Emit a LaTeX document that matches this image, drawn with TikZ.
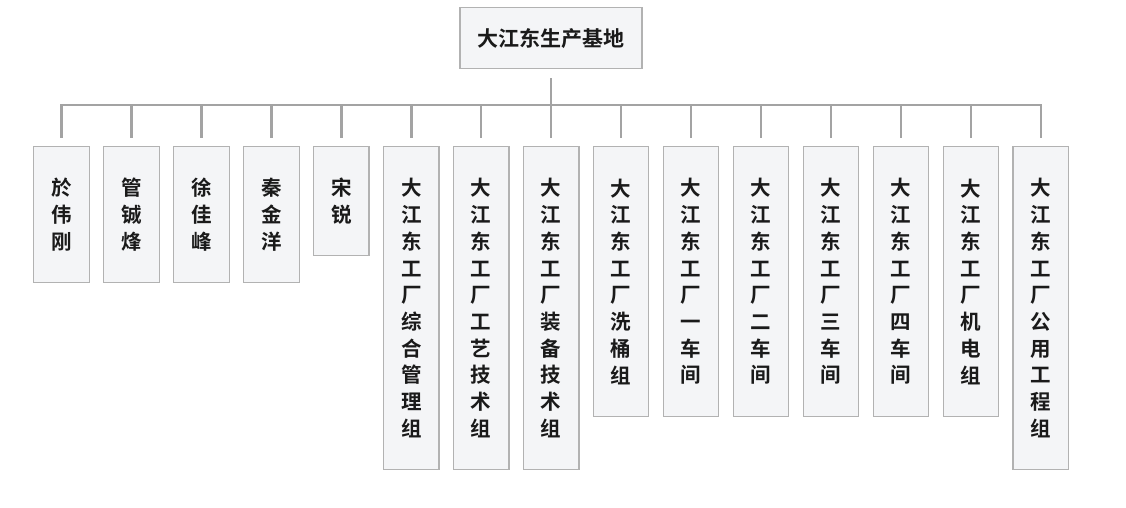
\documentclass[tikz,border=0pt]{standalone}
\usepackage{fontspec}
\setmainfont{Noto Sans CJK SC}[BoldFont={Noto Sans CJK SC Bold}]
\definecolor{linegray}{HTML}{A3A3A3}
\definecolor{boxline}{HTML}{B2B2B2}
\definecolor{boxfill}{HTML}{F4F5F7}
\definecolor{txt}{HTML}{1A1A1A}
\tikzset{
  rootbox/.style={draw=boxline, fill=boxfill, line width=1.2pt, minimum width=182pt, minimum height=61pt, inner sep=0pt, anchor=north, text=txt, font=\fontsize{21}{26}\selectfont\bfseries},
  kid/.style={draw=boxline, fill=boxfill, line width=1.2pt, minimum width=55.5pt, inner sep=0pt, anchor=north, align=center, text=txt, font=\fontsize{20.5}{26.7}\selectfont\bfseries},
  conn/.style={draw=linegray, line width=2.5pt, shorten <=9pt, shorten >=8pt}
}
\begin{document}
\begin{tikzpicture}[x=1pt,y=-1pt]
\useasboundingbox (0,0) rectangle (1126,507);
\node[rootbox] (root) at (551,7) {大江东生产基地};
\coordinate (bus) at (551,105);
\node[kid, minimum height=136pt] (c1)  at (61.5,146)  {於\\伟\\刚};
\node[kid, minimum height=136pt] (c2)  at (131.45,146) {管\\铖\\烽};
\node[kid, minimum height=136pt] (c3)  at (201.4,146) {徐\\佳\\峰};
\node[kid, minimum height=136pt] (c4)  at (271.35,146) {秦\\金\\洋};
\node[kid, minimum height=109pt] (c5)  at (341.3,146) {宋\\锐};
\node[kid, minimum height=323pt] (c6)  at (411.25,146) {大\\江\\东\\工\\厂\\综\\合\\管\\理\\组};
\node[kid, minimum height=323pt] (c7)  at (481.2,146) {大\\江\\东\\工\\厂\\工\\艺\\技\\术\\组};
\node[kid, minimum height=323pt] (c8)  at (551.15,146) {大\\江\\东\\工\\厂\\装\\备\\技\\术\\组};
\node[kid, minimum height=270pt] (c9)  at (621.1,146) {大\\江\\东\\工\\厂\\洗\\桶\\组};
\node[kid, minimum height=270pt] (c10) at (691.05,146) {大\\江\\东\\工\\厂\\一\\车\\间};
\node[kid, minimum height=270pt] (c11) at (761,146) {大\\江\\东\\工\\厂\\二\\车\\间};
\node[kid, minimum height=270pt] (c12) at (830.95,146) {大\\江\\东\\工\\厂\\三\\车\\间};
\node[kid, minimum height=270pt] (c13) at (900.9,146) {大\\江\\东\\工\\厂\\四\\车\\间};
\node[kid, minimum height=270pt] (c14) at (970.85,146) {大\\江\\东\\工\\厂\\机\\电\\组};
\node[kid, minimum height=323pt] (c15) at (1040.8,146) {大\\江\\东\\工\\厂\\公\\用\\工\\程\\组};
\foreach \k in {1,...,15} {
  \draw[conn] (root.south) -- (bus) -| (c\k.north);
}
\end{tikzpicture}
\end{document}
